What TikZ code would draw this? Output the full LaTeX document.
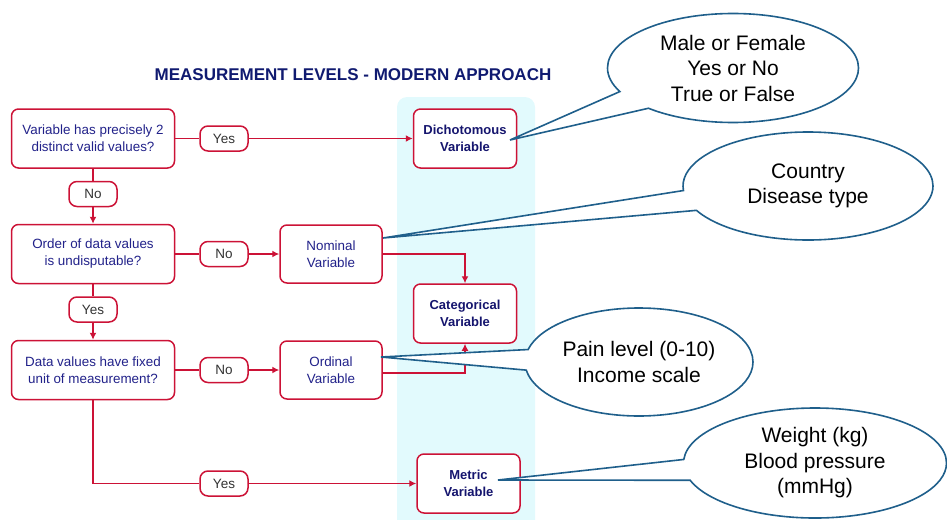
\documentclass[tikz,border=0pt]{standalone}
\usepackage{fontspec}
\setmainfont{Liberation Sans}
\usetikzlibrary{arrows.meta,shapes.callouts,shapes.geometric}
\definecolor{redc}{HTML}{CC1236}
\definecolor{qtext}{HTML}{22228A}
\definecolor{vtext}{HTML}{15156E}
\definecolor{titlec}{HTML}{101A70}
\definecolor{callc}{HTML}{1F5F8B}
\definecolor{bandc}{HTML}{E2FAFD}
\definecolor{labc}{HTML}{333333}
\begin{document}
\begin{tikzpicture}[x=1pt,y=-1pt,
  qbox/.style={draw=redc, line width=1.5pt, rounded corners=7pt, fill=white,
    minimum width=163pt, minimum height=59pt, inner sep=0pt, align=center,
    text=qtext, font=\fontsize{13.4}{17}\selectfont},
  vbox/.style={draw=redc, line width=1.5pt, rounded corners=7pt, fill=white,
    minimum width=103pt, minimum height=59pt, inner sep=0pt, align=center,
    text=vtext, font=\bfseries\fontsize{13}{17}\selectfont},
  nbox/.style={draw=redc, line width=1.5pt, rounded corners=7pt, fill=white,
    minimum width=102pt, minimum height=58pt, inner sep=0pt, align=center,
    text=qtext, font=\fontsize{13.4}{17}\selectfont},
  lab/.style={draw=redc, line width=1.5pt, rounded corners=8pt, fill=white,
    minimum width=48pt, minimum height=25pt, inner sep=0pt,
    text=labc, font=\fontsize{13.5}{15}\selectfont},
  link/.style={draw=redc, line width=1.5pt},
  arr/.style={link, -{Latex[length=7pt,width=7pt]}},
  bubble/.style={ellipse callout, draw=callc, line width=1.6pt, fill=white,
    inner sep=0pt, align=center, callout pointer arc=22,
    font=\fontsize{21}{25.5}\selectfont, text=black}
]
\useasboundingbox (0,0) rectangle (947,519);
\fill[bandc, rounded corners=10pt] (397,540) -- (397,97) -- (535,97) -- (535,540) -- cycle;

\node[text=titlec, font=\bfseries\fontsize{17}{20}\selectfont] (title) at (353,75) {MEASUREMENT LEVELS - MODERN APPROACH};

% questions
\node[qbox] (q1) at (93,138.5) {Variable has precisely 2\\distinct valid values?};
\node[qbox] (q2) at (93,254) {Order of data values\\is undisputable?};
\node[qbox] (q3) at (93,370) {Data values have fixed\\unit of measurement?};

% outcome boxes
\node[nbox] (nom) at (331,254) {Nominal\\Variable};
\node[nbox] (ord) at (331,370) {Ordinal\\Variable};
\node[vbox] (dich) at (465,138.5) {Dichotomous\\Variable};
\node[vbox] (cat) at (465,313.5) {Categorical\\Variable};
\node[vbox] (met) at (468.5,483.5) {Metric\\Variable};

% labels
\node[lab] (yes1) at (224,138.5) {Yes};
\node[lab] (no1) at (93,194) {No};
\node[lab] (no2) at (224,254) {No};
\node[lab] (yes2) at (93,309.5) {Yes};
\node[lab] (no3) at (224,370) {No};
\node[lab] (yes3) at (224,483.5) {Yes};

% connectors
\draw[link] (q1) -- (yes1);
\draw[arr] (yes1) -- (dich);
\draw[link] (q1) -- (no1);
\draw[arr] (no1) -- (q2);
\draw[link] (q2) -- (no2);
\draw[arr] (no2) -- (nom);
\draw[link] (q2) -- (yes2);
\draw[arr] (yes2) -- (q3);
\draw[link] (q3) -- (no3);
\draw[arr] (no3) -- (ord);
\draw[link] (q3.south) |- (yes3.west);
\draw[arr] (yes3) -- (met);
\draw[arr] (nom.east) -| (cat.north);
\draw[arr] ([yshift=-3pt]ord.east) -| (cat.south);

% callouts
\coordinate (p1) at (510,140);
\coordinate (p2) at (383,238);
\coordinate (p3) at (381,357);
\coordinate (p4) at (498,480);
\node[bubble, minimum width=251pt, minimum height=109pt, callout absolute pointer={(p1)}] (c1) at (733,68) {Male or Female\\Yes or No\\True or False};
\node[bubble, minimum width=250pt, minimum height=108pt, callout absolute pointer={(p2)}] (c2) at (808,186) {Country\\Disease type};
\node[bubble, minimum width=228pt, minimum height=108pt, callout absolute pointer={(p3)}] (c3) at (639,362) {Pain level (0-10)\\Income scale};
\node[bubble, minimum width=263pt, minimum height=110pt, callout absolute pointer={(p4)}] (c4) at (815,463) {Weight (kg)\\Blood pressure\\(mmHg)};
\end{tikzpicture}
\end{document}
